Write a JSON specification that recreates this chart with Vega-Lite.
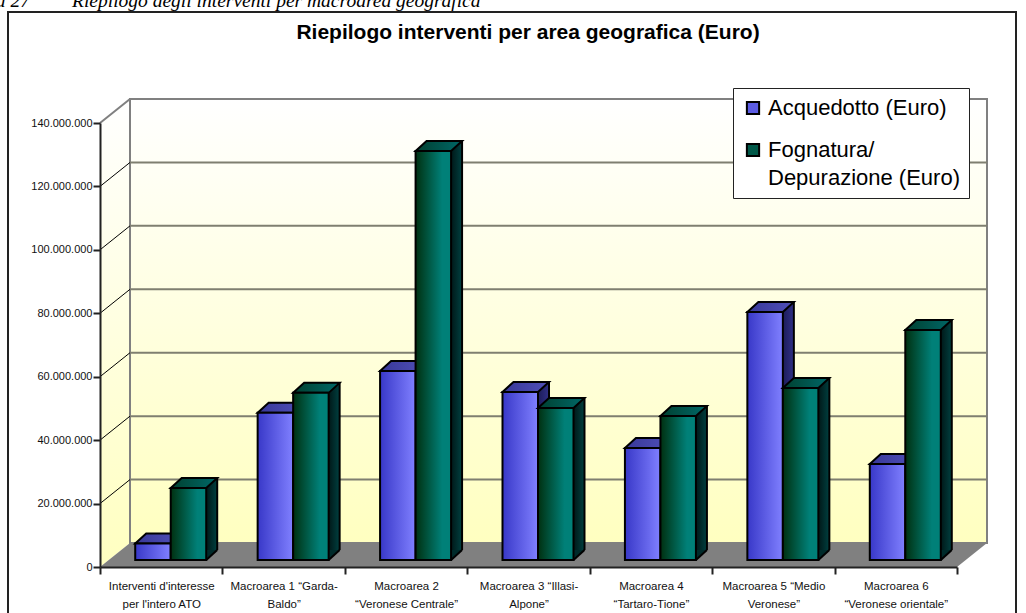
{
"$schema":"https://vega.github.io/schema/vega-lite/v6.json",
"width":1008,"height":602,"padding":{"left":8,"top":12,"right":10,"bottom":0},"autosize":"none",
"background":"white",
"view":{"stroke":"#222222","strokeWidth":2,"fill":"white"},
"title":{"text":"Riepilogo interventi per area geografica (Euro)","font":"Liberation Sans","fontSize":21,"fontWeight":"bold","color":"#000000","anchor":"middle","dx":16,"offset":-52},
"datasets":{
"bars":[
{"area":"Interventi d'interesse\nper l'intero ATO","serie":"Acquedotto (Euro)","euro":5200000},
{"area":"Interventi d'interesse\nper l'intero ATO","serie":"Fognatura/\nDepurazione (Euro)","euro":22700000},
{"area":"Macroarea 1 “Garda-\nBaldo”","serie":"Acquedotto (Euro)","euro":46400000},
{"area":"Macroarea 1 “Garda-\nBaldo”","serie":"Fognatura/\nDepurazione (Euro)","euro":52700000},
{"area":"Macroarea 2\n“Veronese Centrale”","serie":"Acquedotto (Euro)","euro":59600000},
{"area":"Macroarea 2\n“Veronese Centrale”","serie":"Fognatura/\nDepurazione (Euro)","euro":129000000},
{"area":"Macroarea 3 “Illasi-\nAlpone”","serie":"Acquedotto (Euro)","euro":53000000},
{"area":"Macroarea 3 “Illasi-\nAlpone”","serie":"Fognatura/\nDepurazione (Euro)","euro":47900000},
{"area":"Macroarea 4\n“Tartaro-Tione”","serie":"Acquedotto (Euro)","euro":35300000},
{"area":"Macroarea 4\n“Tartaro-Tione”","serie":"Fognatura/\nDepurazione (Euro)","euro":45400000},
{"area":"Macroarea 5 “Medio\nVeronese”","serie":"Acquedotto (Euro)","euro":78200000},
{"area":"Macroarea 5 “Medio\nVeronese”","serie":"Fognatura/\nDepurazione (Euro)","euro":54200000},
{"area":"Macroarea 6\n“Veronese orientale”","serie":"Acquedotto (Euro)","euro":30300000},
{"area":"Macroarea 6\n“Veronese orientale”","serie":"Fognatura/\nDepurazione (Euro)","euro":72500000}
],
"griglia":[{"tick":20000000},{"tick":40000000},{"tick":60000000},{"tick":80000000},{"tick":100000000},{"tick":120000000}]
},
"data":{"name":"bars"},
"layer":[
{"encoding":{"x":{"datum":0,"type":"quantitative","scale":{"domain":[0,1],"range":[92,949]},"axis":null}},
 "layer":[
 {"transform":[{"filter":"datum.euro==129000000"}],"mark":{"type":"point","shape":"M0,0L30,-24L30,-468L0,-444Z","size":4,"filled":true,"opacity":1,"fill":{"gradient":"linear","x1":0,"y1":0,"x2":0,"y2":1,"stops":[{"offset":0,"color":"#FFFFFF"},{"offset":1,"color":"#FFFFC0"}]}},
  "encoding":{"y":{"datum":0}}},
 {"transform":[{"filter":"datum.euro==129000000"}],"mark":{"type":"rect","xOffset":30,"x2Offset":30,"yOffset":-24,"y2Offset":-24,"stroke":"#808080","strokeWidth":2,"fill":{"gradient":"linear","x1":0,"y1":0,"x2":0,"y2":1,"stops":[{"offset":0,"color":"#FFFFFF"},{"offset":1,"color":"#FFFFC0"}]}},
  "encoding":{"x2":{"datum":1},"y":{"datum":0},"y2":{"datum":140000000}}},
 {"data":{"name":"griglia"},"mark":{"type":"rule","color":"#7F7F70","strokeWidth":2,"xOffset":30,"x2Offset":30,"yOffset":-24,"y2Offset":-24},
  "encoding":{"x2":{"datum":1},"y":{"field":"tick","type":"quantitative"}}},
 {"data":{"name":"griglia"},"mark":{"type":"point","shape":"M0,0L30,-24","size":4,"filled":false,"opacity":1,"color":"#000000","strokeWidth":1},
  "encoding":{"y":{"field":"tick","type":"quantitative"}}},
 {"transform":[{"filter":"datum.euro==129000000"}],"mark":{"type":"point","shape":"M0,0L30,-24","size":4,"filled":false,"opacity":1,"color":"#808080","strokeWidth":2},
  "encoding":{"y":{"datum":140000000}}},
 {"transform":[{"filter":"datum.euro==129000000"}],"mark":{"type":"point","shape":"M0,0L857,0L887,-24L30,-24Z","size":4,"filled":true,"opacity":1,"color":"#808080"},
  "encoding":{"y":{"datum":0}}},
 {"transform":[{"filter":"datum.euro==129000000"}],"mark":{"type":"text","text":"Riepilogo degli interventi per macroarea geografica","font":"Liberation Serif","fontStyle":"italic","fontSize":19.5,"align":"left","baseline":"alphabetic","dx":-28,"dy":-560,"color":"#000000"},
  "encoding":{"y":{"datum":0}}},
 {"transform":[{"filter":"datum.euro==129000000"}],"mark":{"type":"text","text":"Figura 27","font":"Liberation Serif","fontStyle":"italic","fontSize":19.5,"align":"right","baseline":"alphabetic","dx":-70,"dy":-560,"color":"#000000"},
  "encoding":{"y":{"datum":0}}}
 ]},
{"encoding":{
  "x":{"field":"area","type":"nominal","title":null,"scale":{"range":[92,949],"paddingInner":0,"paddingOuter":0},
    "axis":{"orient":"bottom","offset":-47,"zindex":1,"tickBand":"extent","domainColor":"#222222","domainWidth":2,"tickColor":"#222222","tickWidth":2,"tickSize":7,"labelAngle":0,"labelFont":"Liberation Sans","labelFontSize":11.5,"labelColor":"#111111","labelPadding":6,"labelLineHeight":18,"labelLimit":0,"labelExpr":"split(datum.label,'\\n')"}}
 },
 "layer":[
 {"transform":[{"filter":"datum.serie=='Acquedotto (Euro)'"}],"layer":[
  {"mark":{"type":"bar","width":11,"xOffset":15,"yOffset":-17,"y2Offset":-17,"color":{"gradient":"linear","x1":0,"y1":0,"x2":1,"y2":0,"stops":[{"offset":0,"color":"#1C1C58"},{"offset":1,"color":"#303088"}]}},"encoding":{"y2":{"datum":0}}},
  {"mark":{"type":"point","shape":"M17.75,0L28.75,-10L17.75,-10Z","size":4,"filled":true,"opacity":1,"color":"#22226E","xOffset":-8.25,"yOffset":-7},"encoding":{"y":{"datum":0}}},
  {"mark":{"type":"point","shape":"M17.75,0L28.75,-10","size":4,"filled":false,"opacity":1,"color":"#000000","strokeWidth":2,"xOffset":-8.25,"yOffset":-7},"encoding":{"y":{"datum":0}}},
  {"mark":{"type":"rule","color":"#000000","strokeWidth":2,"xOffset":20.5,"x2Offset":20.5,"yOffset":-17,"y2Offset":-17},"encoding":{"y2":{"datum":0}}},
  {"mark":{"type":"point","shape":"M-17.75,0L17.75,0L28.75,-10L-6.75,-10Z","size":4,"filled":true,"opacity":1,"fill":{"gradient":"linear","x1":0,"y1":0,"x2":1,"y2":0,"stops":[{"offset":0,"color":"#383898"},{"offset":1,"color":"#5050B8"}]},"stroke":"#000000","strokeWidth":2,"xOffset":-8.25,"yOffset":-7}},
  {"mark":{"type":"bar","width":35.5,"xOffset":-8.25,"yOffset":-7,"y2Offset":-7},"encoding":{"y2":{"datum":0},"color":{"field":"serie","type":"nominal","title":null,
   "scale":{"domain":["Acquedotto (Euro)","Fognatura/\nDepurazione (Euro)"],"range":["#5C5CE4","#005848"]},
   "legend":{"orient":"none","legendX":725,"legendY":76,"fillColor":"#FFFFFF","strokeColor":"#222222","padding":9,"symbolType":"square","symbolSize":150,"labelFont":"Liberation Sans","labelFontSize":22,"labelColor":"#000000","labelLimit":0,"rowPadding":20,"labelExpr":"split(datum.label,'\\n')","encoding":{"labels":{"lineHeight":{"value":28}},"symbols":{"stroke":{"value":"#000000"},"strokeWidth":{"value":2},"fill":{"condition":{"test":"datum.value=='Acquedotto (Euro)'","value":{"gradient":"linear","x1":0,"y1":0,"x2":1,"y2":0,"stops":[{"offset":0,"color":"#3838C8"},{"offset":1,"color":"#8080FF"}]}},"value":{"gradient":"linear","x1":0,"y1":0,"x2":1,"y2":0,"stops":[{"offset":0,"color":"#003010"},{"offset":1,"color":"#008078"}]}}}}}}}},
  {"mark":{"type":"bar","width":35.5,"xOffset":-8.25,"yOffset":-7,"y2Offset":-7,"stroke":"#000000","strokeWidth":2,"color":{"gradient":"linear","x1":0,"y1":0,"x2":1,"y2":0,"stops":[{"offset":0,"color":"#3838C8"},{"offset":1,"color":"#8080FF"}]}},"encoding":{"y2":{"datum":0}}}
 ]},
 {"transform":[{"filter":"datum.serie!='Acquedotto (Euro)'"}],"layer":[
  {"mark":{"type":"bar","width":11,"xOffset":50.5,"yOffset":-17,"y2Offset":-17,"color":{"gradient":"linear","x1":0,"y1":0,"x2":1,"y2":0,"stops":[{"offset":0,"color":"#001818"},{"offset":1,"color":"#004040"}]}},"encoding":{"y2":{"datum":0}}},
  {"mark":{"type":"point","shape":"M17.75,0L28.75,-10L17.75,-10Z","size":4,"filled":true,"opacity":1,"color":"#002A2A","xOffset":27.25,"yOffset":-7},"encoding":{"y":{"datum":0}}},
  {"mark":{"type":"point","shape":"M17.75,0L28.75,-10","size":4,"filled":false,"opacity":1,"color":"#000000","strokeWidth":2,"xOffset":27.25,"yOffset":-7},"encoding":{"y":{"datum":0}}},
  {"mark":{"type":"rule","color":"#000000","strokeWidth":2,"xOffset":56,"x2Offset":56,"yOffset":-17,"y2Offset":-17},"encoding":{"y2":{"datum":0}}},
  {"mark":{"type":"point","shape":"M-17.75,0L17.75,0L28.75,-10L-6.75,-10Z","size":4,"filled":true,"opacity":1,"fill":{"gradient":"linear","x1":0,"y1":0,"x2":1,"y2":0,"stops":[{"offset":0,"color":"#004030"},{"offset":1,"color":"#006868"}]},"stroke":"#000000","strokeWidth":2,"xOffset":27.25,"yOffset":-7}},
  {"mark":{"type":"bar","width":35.5,"xOffset":27.25,"yOffset":-7,"y2Offset":-7},"encoding":{"y2":{"datum":0},"color":{"field":"serie","type":"nominal"}}},
  {"mark":{"type":"bar","width":35.5,"xOffset":27.25,"yOffset":-7,"y2Offset":-7,"stroke":"#000000","strokeWidth":2,"color":{"gradient":"linear","x1":0,"y1":0,"x2":1,"y2":0,"stops":[{"offset":0,"color":"#003010"},{"offset":0.75,"color":"#008078"},{"offset":1,"color":"#008078"}]}},"encoding":{"y2":{"datum":0}}}
 ]}
 ]}
],
"encoding":{
 "y":{"field":"euro","type":"quantitative","title":null,"stack":null,"scale":{"domain":[0,140000000],"range":[555,111],"nice":false},
   "axis":{"orient":"left","offset":-92,"zindex":1,"values":[0,20000000,40000000,60000000,80000000,100000000,120000000,140000000],"grid":false,"domainColor":"#222222","domainWidth":2,"tickColor":"#222222","tickWidth":2,"tickSize":7,"labelFont":"Liberation Sans","labelFontSize":11,"labelColor":"#111111","labelPadding":1,"labelExpr":"replace(format(datum.value,','),/,/g,'.')"}}
},
"resolve":{"scale":{"x":"independent","y":"shared","color":"shared"},"axis":{"x":"independent","y":"shared"}}
}
